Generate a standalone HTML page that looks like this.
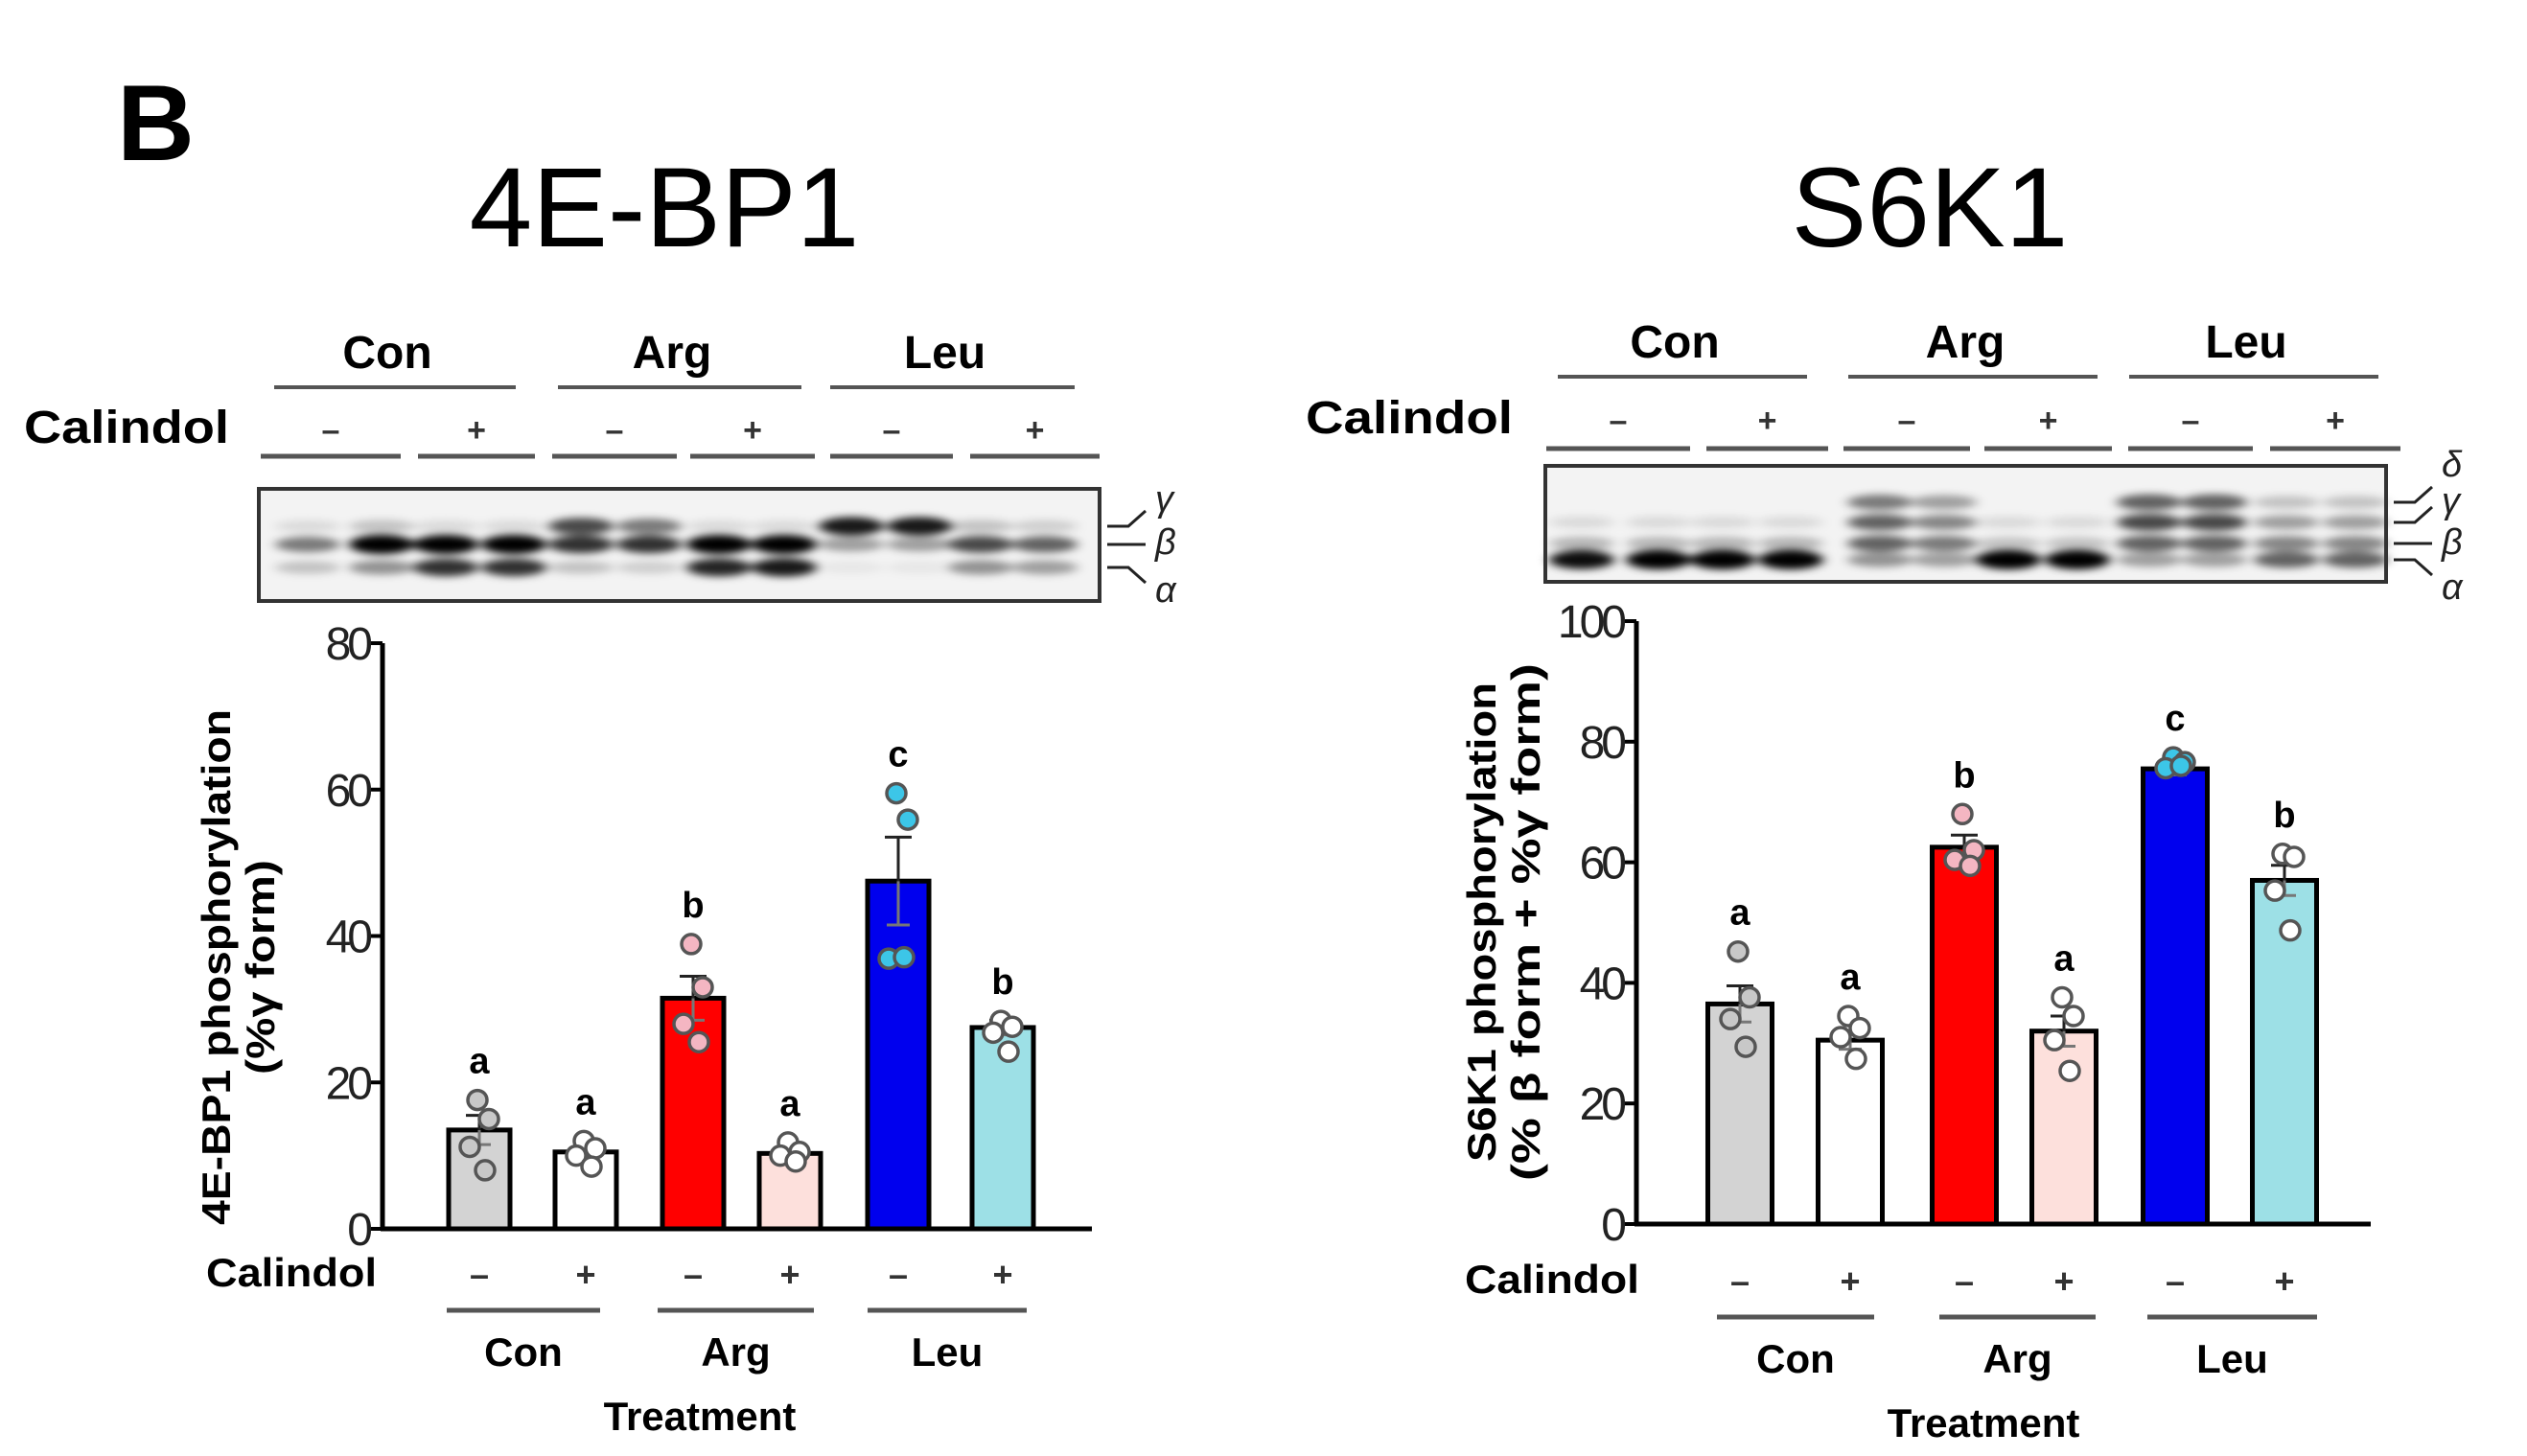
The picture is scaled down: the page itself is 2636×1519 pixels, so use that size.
<!DOCTYPE html>
<html><head><meta charset="utf-8">
<style>
html,body{margin:0;padding:0;background:#fff;}
svg{display:block;font-family:"Liberation Sans",Arial,sans-serif;}
</style></head>
<body>
<svg id="fig" width="2636" height="1519" viewBox="0 0 2636 1519" xmlns="http://www.w3.org/2000/svg">
<defs>
<filter id="blur" x="-50%" y="-100%" width="200%" height="300%"><feGaussianBlur stdDeviation="6 4"/></filter>
</defs>
<text x="122" y="167" font-size="112" font-weight="bold">B</text>
<text x="693" y="257" font-size="118" text-anchor="middle">4E-BP1</text>
<text x="2013" y="257" font-size="118" text-anchor="middle">S6K1</text>
<g id="root"></g>
</svg>
<script>
// ---- data: left chart (4E-BP1) ----
const categories = ["Con -", "Con +", "Arg -", "Arg +", "Leu -", "Leu +"];
const leftMeans = [13.5, 10.5, 31.5, 10.3, 47.5, 27.5];
const leftSem = [2.0, 0.7, 3.0, 0.7, 6.0, 1.0];
const leftPoints = [[17.6, 15, 11.2, 8], [12, 11, 10, 8.5], [38.9, 33, 28, 25.5], [11.8, 10.5, 10, 9.2], [59.5, 55.9, 36.9, 37.1], [28.4, 27.6, 26.8, 24.2]];
const leftLetters = ["a", "a", "b", "a", "c", "b"];
const leftTicks = [0, 20, 40, 60, 80];
// ---- data: right chart (S6K1) ----
const rightMeans = [36.5, 30.5, 62.5, 32, 75.5, 57];
const rightSem = [3.0, 1.5, 2.0, 2.5, 1.0, 2.5];
const rightPoints = [[45.2, 37.6, 34, 29.4], [34.5, 32.5, 31, 27.4], [68, 62, 60.4, 59.4], [37.6, 34.5, 30.5, 25.4], [77.4, 76.6, 75.6, 76], [61.4, 60.9, 55.3, 48.7]];
const rightLetters = ["a", "a", "b", "a", "c", "b"];
const rightTicks = [0, 20, 40, 60, 80, 100];
const groups = ["Con", "Arg", "Leu"];
const calindol = ["\u2013", "+", "\u2013", "+", "\u2013", "+"];
// blot band intensities per lane
const leftBands = [[.1,.5,.2],[.2,1,.4],[.1,1,.8],[.1,1,.8],[.7,.8,.2],[.5,.8,.15],[.1,1,.85],[.1,1,.9],[.9,.35,.05],[.9,.35,.05],[.2,.7,.4],[.15,.6,.35]];
const rightBands = [[0,.1,.25,.95],[0,.1,.25,1],[0,.1,.25,1],[0,.1,.25,1],[.5,.6,.6,.4],[.35,.45,.5,.35],[0,.1,.2,1],[0,.1,.2,1],[.6,.7,.6,.35],[.6,.7,.6,.35],[.2,.35,.45,.6],[.2,.35,.45,.6]];

const NS = "http://www.w3.org/2000/svg";
const root = document.getElementById("root");
function mk(tag, attrs, parent, text) {
  const e = document.createElementNS(NS, tag);
  for (const k in attrs) e.setAttribute(k, attrs[k]);
  if (text !== undefined) e.textContent = text;
  (parent || root).appendChild(e);
  return e;
}
const barFill = ["#d3d3d3", "#ffffff", "#ff0000", "#fde0dc", "#0000ee", "#9de0e6"];
const dotFill = ["#c8c8c8", "#ffffff", "#f4b6c2", "#ffffff", "#3cc6e8", "#ffffff"];

function chart(cfg) {
  const g = mk("g", {});
  
  
  const ys = v => cfg.y0 - (v / cfg.max) * (cfg.y0 - cfg.yTop);
  cfg.means.forEach((m, i) => {
    const cx = cfg.centers[i];
    const b = mk("rect", {x: cx - cfg.bw / 2, y: ys(m), width: cfg.bw, height: cfg.y0 - ys(m), fill: barFill[i], stroke: "#000", "stroke-width": 5}, g);
    
    
    const s = cfg.sem[i];
    const eb = mk("g", {}, g);
    
    
    mk("line", {x1: cx, x2: cx, y1: ys(m - s), y2: ys(m), stroke: "#777", "stroke-width": 3}, eb);
    mk("line", {x1: cx - 12, x2: cx + 12, y1: ys(m - s), y2: ys(m - s), stroke: "#777", "stroke-width": 3}, eb);
    mk("line", {x1: cx, x2: cx, y1: ys(m + s), y2: ys(m), stroke: "#222", "stroke-width": 3}, eb);
    mk("line", {x1: cx - 14, x2: cx + 14, y1: ys(m + s), y2: ys(m + s), stroke: "#222", "stroke-width": 3}, eb);
    const offs = [-2, 10, -10, 6];
    let top = ys(m + s);
    cfg.points[i].forEach((p, j) => {
      const d = mk("circle", {cx: cx + offs[j], cy: ys(p), r: 10, fill: dotFill[i], stroke: "#555", "stroke-width": 3.5}, g);
      
      
      top = Math.min(top, ys(p) - 10);
    });
    const lt = mk("text", {x: cx, y: top - 18, "font-size": 38, "font-weight": "bold", "text-anchor": "middle"}, g, cfg.letters[i]);
    
    
  });
  const ya = mk("line", {x1: cfg.ax, x2: cfg.ax, y1: cfg.yTop, y2: cfg.y0 + 2, stroke: "#000", "stroke-width": 5}, g);
  
  
  const xa = mk("line", {x1: cfg.ax - 2, x2: cfg.xEnd, y1: cfg.y0, y2: cfg.y0, stroke: "#000", "stroke-width": 5}, g);
  
  
  cfg.ticks.forEach(t => {
    mk("line", {x1: cfg.ax - 12, x2: cfg.ax, y1: ys(t), y2: ys(t), stroke: "#000", "stroke-width": 4}, g);
    const tl = mk("text", {x: cfg.ax - 14, y: ys(t) + 17, "font-size": 48, "text-anchor": "end", "letter-spacing": "-4", fill: "#222"}, g, String(t));
    
    
  });
  const yt = mk("text", {transform: `translate(${cfg.ytx},${cfg.yty}) rotate(-90)`, "font-size": 42, "font-weight": "bold", "text-anchor": "middle"}, g);
  
  
  mk("tspan", {x: 0, dy: 0, textLength: cfg.yl1, lengthAdjust: "spacingAndGlyphs"}, yt, cfg.yt1);
  mk("tspan", {x: 0, dy: 46, textLength: cfg.yl2, lengthAdjust: "spacingAndGlyphs"}, yt, cfg.yt2);
  const cl = mk("text", {x: cfg.calX, y: cfg.calY, "font-size": 42, "font-weight": "bold", "text-anchor": "end", textLength: cfg.calL, lengthAdjust: "spacingAndGlyphs"}, g, "Calindol");
  
  
  cfg.centers.forEach((cx, i) => {
    mk("text", {x: cx, y: cfg.calY, "font-size": 36, "font-weight": "bold", "text-anchor": "middle", fill: "#333"}, g, calindol[i]);
  });
  groups.forEach((gr, k) => {
    const a = cfg.gl[k][0], b = cfg.gl[k][1];
    mk("line", {x1: a, x2: b, y1: cfg.lineY, y2: cfg.lineY, stroke: "#555", "stroke-width": 5}, g);
    const gl = mk("text", {x: (a + b) / 2, y: cfg.lineY + 58, "font-size": 42, "font-weight": "bold", "text-anchor": "middle"}, g, gr);
    
    
  });
  const tr = mk("text", {x: cfg.trX, y: cfg.lineY + 125, "font-size": 42, "font-weight": "bold", "text-anchor": "middle"}, g, "Treatment");
  
  
}

chart({name: "4ebp1", means: leftMeans, sem: leftSem, points: leftPoints, letters: leftLetters, ticks: leftTicks, max: 80,
  ax: 399, y0: 1282, yTop: 671, xEnd: 1139, bw: 64, centers: [500, 611, 723, 824, 937, 1046],
  ytx: 240, yty: 1009, yt1: "4E-BP1 phosphorylation", yt2: "(%\u03b3 form)", yl1: 538, yl2: 224,
  calX: 393, calY: 1342, calL: 178, lineY: 1367, gl: [[466, 626], [686, 849], [905, 1071]], trX: 730});
chart({name: "s6k1", means: rightMeans, sem: rightSem, points: rightPoints, letters: rightLetters, ticks: rightTicks, max: 100,
  ax: 1707, y0: 1277, yTop: 648, xEnd: 2473, bw: 67, centers: [1815, 1930, 2049, 2153, 2269, 2383],
  ytx: 1560, yty: 962, yt1: "S6K1 phosphorylation", yt2: "(% \u03b2 form + %\u03b3 form)", yl1: 500, yl2: 540,
  calX: 1710, calY: 1349, calL: 182, lineY: 1374, gl: [[1791, 1955], [2023, 2186], [2240, 2417]], trX: 2069});

function header(cfg) {
  const g = mk("g", {});
  
  
  groups.forEach((gr, k) => {
    const a = cfg.gx[k][0], b = cfg.gx[k][1];
    mk("text", {x: (a + b) / 2 - 8, y: cfg.gy - 20, "font-size": 48, "font-weight": "bold", "text-anchor": "middle"}, g, gr);
    mk("line", {x1: a, x2: b, y1: cfg.gy, y2: cfg.gy, stroke: "#555", "stroke-width": 4}, g);
  });
  mk("text", {x: cfg.calX, y: cfg.calY, "font-size": 48, "font-weight": "bold", "text-anchor": "end", textLength: cfg.calL, lengthAdjust: "spacingAndGlyphs"}, g, "Calindol");
  for (let i = 0; i < 6; i++) {
    const a = cfg.sx[i][0], b = cfg.sx[i][1];
    mk("text", {x: (a + b) / 2, y: cfg.calY - 2, "font-size": 34, "font-weight": "bold", "text-anchor": "middle", fill: "#333"}, g, calindol[i]);
    mk("line", {x1: a, x2: b, y1: cfg.sy, y2: cfg.sy, stroke: "#555", "stroke-width": 5}, g);
  }
}
header({name: "4ebp1", gx: [[286, 538], [582, 836], [866, 1121]], gy: 404, calX: 239, calY: 462, calL: 214,
  sx: [[272, 418], [436, 558], [576, 706], [720, 850], [866, 994], [1012, 1147]], sy: 476});
header({name: "s6k1", gx: [[1625, 1885], [1928, 2188], [2221, 2481]], gy: 393, calX: 1578, calY: 452, calL: 216,
  sx: [[1613, 1763], [1780, 1907], [1923, 2055], [2070, 2203], [2220, 2350], [2368, 2504]], sy: 468});

function blot(cfg) {
  const g = mk("g", {});
  
  
  mk("rect", {x: cfg.x, y: cfg.y, width: cfg.w, height: cfg.h, fill: "#f3f3f3"}, g);
  const bg = mk("g", {filter: "url(#blur)"}, g);
  cfg.lanes.forEach((lx, i) => {
    cfg.bands[i].forEach((v, j) => {
      if (v <= 0) return;
      mk("ellipse", {cx: lx, cy: cfg.by[j], rx: 34, ry: 6 + 4 * v, fill: "#000", opacity: Math.min(1, v)}, bg);
    });
  });
  mk("rect", {x: cfg.x, y: cfg.y, width: cfg.w, height: cfg.h, fill: "none", stroke: "#333", "stroke-width": 4}, g);
  cfg.labels.forEach((lab, j) => {
    const ay = cfg.by[j];
    mk("polyline", {points: `${cfg.x + cfg.w + 8},${ay} ${cfg.x + cfg.w + 30},${ay} ${cfg.x + cfg.w + 48},${ay + (j === cfg.labels.length - 1 ? 16 : (j === 0 || (cfg.labels.length === 4 && j === 1) ? -16 : 0))}`, fill: "none", stroke: "#222", "stroke-width": 3}, g);
    mk("text", {x: cfg.x + cfg.w + 58, y: cfg.ly[j], "font-size": 38, "font-style": "italic", fill: "#222"}, g, lab);
  });
}
blot({name: "4ebp1", x: 270, y: 510, w: 877, h: 117, lanes: [321, 398, 465, 536, 606, 677, 750, 818, 888, 959, 1023, 1090],
  bands: leftBands, by: [549, 568, 592], labels: ["\u03b3", "\u03b2", "\u03b1"], ly: [533, 578, 628]});
blot({name: "s6k1", x: 1612, y: 486, w: 877, h: 121, lanes: [1650, 1730, 1797, 1868, 1961, 2028, 2095, 2167, 2242, 2310, 2385, 2457],
  bands: rightBands, by: [524, 545, 567, 584], labels: ["\u03b4", "\u03b3", "\u03b2", "\u03b1"], ly: [497, 535, 578, 625]});
</script>
</body></html>
